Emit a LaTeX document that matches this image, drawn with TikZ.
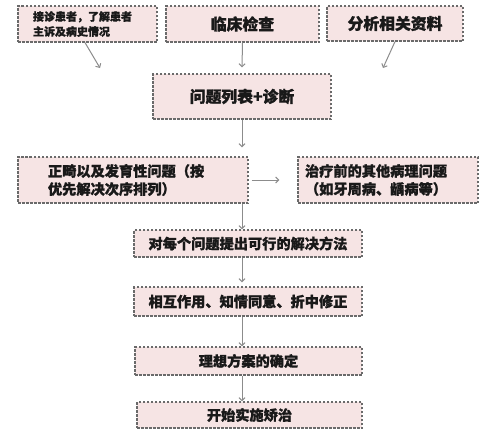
\documentclass[tikz,border=0pt]{standalone}
\usepackage{fontspec}
\newfontfamily\cjk{Noto Sans CJK SC}[BoldFeatures={FakeBold=1.2}]
\usetikzlibrary{arrows.meta}
\definecolor{boxfill}{HTML}{F6E4E4}
\definecolor{boxline}{HTML}{6A6A6A}
\definecolor{arrowgray}{HTML}{8C8C8C}
\tikzset{
  box/.style={draw=boxline, fill=boxfill, line width=1.2pt, dash pattern=on 2.5pt off 1.5pt,
    inner sep=0pt, text=black!90, font=\cjk\bfseries\fontsize{14.2}{18}\selectfont},
  headbox/.style={box, font=\cjk\bfseries\fontsize{15.8}{18}\selectfont},
  arr/.style={draw=arrowgray, line width=1pt, -{Straight Barb[length=3pt,width=6pt]}}
}
\begin{document}
\begin{tikzpicture}[x=1pt,y=-1pt]
      \useasboundingbox (0,0) rectangle (493,442);
      \fill[white] (0,0) rectangle (493,442);
      \draw
        (87.5,24) node[box, minimum width=139pt, minimum height=36pt, text width=109pt, inner xsep=15pt, align=left,
          font=\cjk\bfseries\fontsize{11}{15}\selectfont] (visit){接诊患者，了解患者\\主诉及病史情况}
        (242.5,24) node[headbox, minimum width=153pt, minimum height=36pt] (exam){临床检查}
        (395,23.5) node[headbox, minimum width=136pt, minimum height=35pt] (data){分析相关资料}
        (242,96.5) node[headbox, minimum width=178pt, minimum height=45pt] (list){问题列表+诊断}
        (133,180) node[box, minimum height=46pt, text width=170pt, inner xsep=30pt, align=left] (ortho){正畸以及发育性问题（按\\优先解决次序排列）}
        (388,180) node[box, minimum height=46pt, text width=166pt, inner xsep=7pt, align=left] (other){治疗前的其他病理问题\\（如牙周病、龋病等）}
        (248,243.5) node[box, minimum width=228pt, minimum height=27pt] (solve){对每个问题提出可行的解决方法}
        (248,301.5) node[box, minimum width=228pt, minimum height=29pt] (agree){相互作用、知情同意、折中修正}
        (248.5,361) node[box, minimum width=227pt, minimum height=28pt] (plan){理想方案的确定}
        (249.5,415) node[box, minimum width=225pt, minimum height=26pt] (start){开始实施矫治};
      \coordinate (visitend) at (100,68);
      \coordinate (dataend) at (383,68);
      \begin{scope}[arr]
        \draw ([xshift=-2.5pt]visit.south) to (visitend);
        \draw (exam.south) to ([xshift=-0.5pt,yshift=6pt]exam.south |- list.north);
        \draw (data.south) to (dataend);
        \draw (list.south) to ([yshift=9pt]list.south |- ortho.north);
        \draw (list.south |- ortho.south) to (list.south |- solve.north);
        \draw (list.south |- solve.south) to ([yshift=4pt]list.south |- agree.north);
        \draw (list.south |- agree.south) to (list.south |- plan.north);
        \draw (list.south |- plan.south) to (list.south |- start.north);
        \draw ([xshift=3pt]ortho.east) to ([xshift=-18pt]other.west);
      \end{scope}
    \end{tikzpicture}
\end{document}
